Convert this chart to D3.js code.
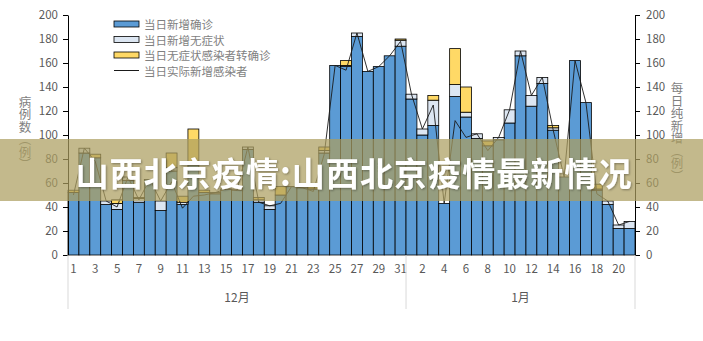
<!DOCTYPE html>
<html>
<head>
<meta charset="utf-8">
<script src="https://cdn.jsdelivr.net/npm/d3@7"></script>
<style>
  html, body { margin: 0; padding: 0; background: #fff; }
  svg { display: block; font-family: "Noto Sans CJK SC", "Microsoft YaHei", sans-serif; }
</style>
</head>
<body>
<svg id="chart" width="703" height="341"></svg>
<script>
// Day of month for each bar: December 1–31, then January 1–21
const dayLabels = [
  1, 2, 3, 4, 5, 6, 7, 8, 9, 10, 11, 12, 13, 14, 15, 16, 17, 18, 19, 20,
  21, 22, 23, 24, 25, 26, 27, 28, 29, 30, 31,
  1, 2, 3, 4, 5, 6, 7, 8, 9, 10, 11, 12, 13, 14, 15, 16, 17, 18, 19, 20, 21
];
const monthNames = ["12月", "1月"];
const monthLengths = [31, 21];

// 当日新增确诊
const confirmed = [
  52, 85, 81, 42, 38, 62, 44, 63, 37, 70, 42, 75, 52, 51, 55, 54, 88, 44, 38, 50,
  57, 56, 55, 85, 158, 157, 182, 153, 157, 166, 174,
  130, 100, 108, 43, 132, 115, 97, 91, 96, 110, 166, 124, 143, 104, 65, 162, 127, 54, 42, 22, 22
];
// 当日新增无症状
const asymptomatic = [
  0, 4, 0, 3, 5, 3, 3, 0, 8, 3, 2, 2, 0, 1, 0, 0, 2, 2, 3, 0,
  0, 0, 0, 2, 0, 1, 3, 0, 0, 0, 5,
  4, 5, 21, 0, 10, 4, 4, 0, 2, 11, 4, 9, 5, 2, 0, 0, 0, 1, 3, 3, 6
];
// 当日无症状感染者转确诊
const converted = [
  2, 0, 3, 0, 3, 0, 1, 0, 0, 12, 5, 28, 2, 0, 0, 0, 0, 2, 0, 7,
  0, 0, 2, 3, 0, 4, 0, 0, 0, 0, 1,
  0, 0, 4, 0, 30, 21, 0, 4, 0, 0, 0, 0, 0, 2, 0, 0, 0, 4, 0, 0, 0
];
// 当日实际新增感染者
const actualNew = [
  50, 89, 78, 45, 40, 65, 46, 63, 45, 61, 39, 49, 50, 52, 55, 54, 90, 44, 41, 43,
  57, 56, 53, 84, 158, 154, 185, 153, 157, 166, 178,
  134, 105, 125, 43, 112, 98, 101, 87, 98, 121, 170, 133, 148, 104, 65, 162, 127, 51, 45, 25, 28
];

const seriesNames = ["当日新增确诊", "当日新增无症状", "当日无症状感染者转确诊", "当日实际新增感染者"];
const seriesColors = ["#5b9bd5", "#dce6f2", "#ffd966"];
const yTicks = [0, 20, 40, 60, 80, 100, 120, 140, 160, 180, 200];
const leftTitle = "病例数（例）";
const rightTitle = "每日纯新增（例）";
const bannerText = "山西北京疫情:山西北京疫情最新情况";

const svg = d3.select("#chart");
const plot = { left: 68, right: 635, top: 15, bottom: 255 };
const textColor = "#595959";

const idx = d3.range(dayLabels.length);
const x = d3.scaleBand().domain(idx).range([plot.left, plot.right]).padding(0);
const y = d3.scaleLinear().domain([0, 200]).range([plot.bottom, plot.top]);

// Stacked bars
const keys = ["confirmed", "asymptomatic", "converted"];
const table = idx.map(i => ({
  i, confirmed: confirmed[i], asymptomatic: asymptomatic[i], converted: converted[i]
}));
const stacked = d3.stack().keys(keys)(table);

svg.append("g").selectAll("g")
  .data(stacked)
  .join("g")
  .attr("fill", (d, k) => seriesColors[k])
  .selectAll("rect")
  .data(d => d)
  .join("rect")
  .attr("x", d => x(d.data.i))
  .attr("width", x.bandwidth())
  .attr("y", d => y(d[1]))
  .attr("height", d => y(d[0]) - y(d[1]))
  .attr("stroke", "#000")
  .attr("stroke-width", 0.8);

// Actual new infections line
const line = d3.line()
  .x((d, i) => x(i) + x.bandwidth() / 2)
  .y(d => y(d));
svg.append("path")
  .datum(actualNew)
  .attr("d", line)
  .attr("fill", "none")
  .attr("stroke", "#1a1a1a")
  .attr("stroke-width", 0.9);

// Axes
const axisStyle = g => {
  g.select(".domain").attr("stroke", "#000").attr("stroke-width", 1);
  g.selectAll(".tick line").attr("stroke", "#000");
  g.selectAll(".tick text").attr("fill", textColor).attr("font-size", 11.5)
    .attr("font-family", "'Noto Sans CJK SC', sans-serif");
};
svg.append("g")
  .attr("transform", `translate(${plot.left},0)`)
  .call(d3.axisLeft(y).tickValues(yTicks).tickSize(5).tickSizeOuter(0).tickPadding(5))
  .call(axisStyle);
svg.append("g")
  .attr("transform", `translate(${plot.right},0)`)
  .call(d3.axisRight(y).tickValues(yTicks).tickSize(5).tickSizeOuter(0).tickPadding(6))
  .call(axisStyle);

// Day labels on every other category
const xAxis = svg.append("g")
  .attr("transform", `translate(0,${plot.bottom + 10})`)
  .call(d3.axisBottom(x)
    .tickValues(idx.filter(i => i % 2 === 0))
    .tickFormat(i => dayLabels[i])
    .tickSize(0).tickPadding(0));
xAxis.select(".domain").remove();
xAxis.selectAll(".tick text").attr("fill", textColor).attr("font-size", 11.5)
  .attr("font-family", "'Noto Sans CJK SC', sans-serif");

// Month grouping: separators and names
let start = 0;
const bounds = [0];
monthLengths.forEach(n => { start += n; bounds.push(start); });
const boundX = bounds.map(b => b < idx.length ? x(b) : plot.right);
svg.append("g").selectAll("line")
  .data(boundX)
  .join("line")
  .attr("x1", d => d).attr("x2", d => d)
  .attr("y1", plot.bottom).attr("y2", 309)
  .attr("stroke", "#d9d9d9").attr("stroke-width", 1);
svg.append("g").selectAll("text")
  .data(monthNames)
  .join("text")
  .attr("x", (d, m) => (boundX[m] + boundX[m + 1]) / 2)
  .attr("y", 296)
  .attr("dominant-baseline", "central")
  .attr("text-anchor", "middle")
  .attr("font-size", 12)
  .attr("fill", textColor)
  .text(d => d);

// Vertical axis titles
svg.append("text")
  .attr("x", 25).attr("y", 133)
  .style("writing-mode", "vertical-rl")
  .attr("text-anchor", "middle")
  .attr("font-size", 12.5)
  .attr("fill", "#7f7f7f")
  .text(leftTitle);
svg.append("text")
  .attr("x", 677).attr("y", 132)
  .style("writing-mode", "vertical-rl")
  .attr("text-anchor", "middle")
  .attr("font-size", 12.5)
  .attr("fill", "#7f7f7f")
  .text(rightTitle);

// Legend
const legend = svg.append("g").attr("transform", "translate(114,0)");
const legendY = [24, 39.5, 55, 70.5];
seriesNames.forEach((name, k) => {
  const row = legend.append("g").attr("transform", `translate(0,${legendY[k]})`);
  if (k < 3) {
    row.append("rect").attr("x", 0).attr("y", -3).attr("width", 25).attr("height", 6)
      .attr("fill", seriesColors[k]).attr("stroke", "#000").attr("stroke-width", 0.8);
  } else {
    row.append("line").attr("x1", 0).attr("x2", 25).attr("y1", 0).attr("y2", 0)
      .attr("stroke", "#1a1a1a").attr("stroke-width", 1);
  }
  row.append("text").attr("x", 30).attr("y", 0)
    .attr("dominant-baseline", "central")
    .attr("font-size", 11.5).attr("fill", "#7f7f7f")
    .text(name);
});

// Title banner across the middle
const defs = svg.append("defs");
const f = defs.append("filter").attr("id", "soft").attr("x", "-5%").attr("y", "-20%")
  .attr("width", "110%").attr("height", "140%");
f.append("feDropShadow").attr("dx", 1).attr("dy", 1).attr("stdDeviation", 1)
  .attr("flood-color", "#000").attr("flood-opacity", 0.35);

svg.append("rect")
  .attr("x", 0).attr("y", 139).attr("width", 703).attr("height", 62)
  .attr("fill", "rgb(172,158,95)").attr("fill-opacity", 0.72);
svg.append("text")
  .attr("x", 353.5).attr("y", 172)
  .attr("text-anchor", "middle")
  .attr("dominant-baseline", "central")
  .attr("font-size", 33)
  .attr("font-weight", 700)
  .attr("fill", "#fff")
  .attr("textLength", 556)
  .attr("lengthAdjust", "spacing")
  .attr("filter", "url(#soft)")
  .text(bannerText);
</script>
</body>
</html>
